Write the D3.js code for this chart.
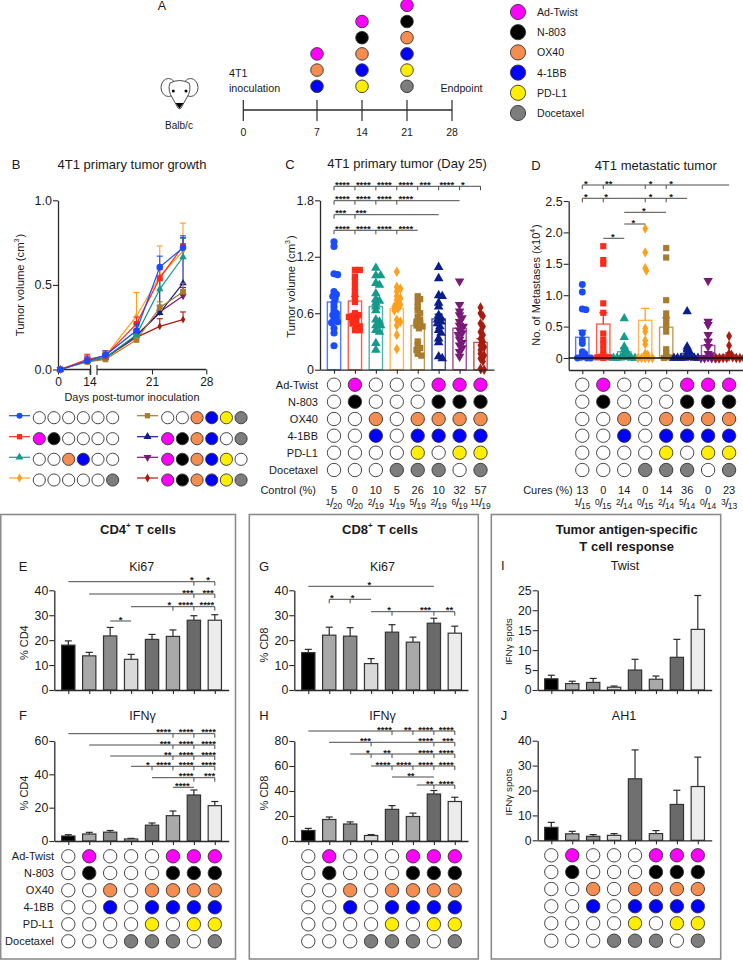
<!DOCTYPE html>
<html><head><meta charset="utf-8">
<script src="https://cdnjs.cloudflare.com/ajax/libs/d3/7.8.5/d3.min.js"></script>
<style>html,body{margin:0;padding:0;background:#fff}svg{display:block}text{font-family:"Liberation Sans",Arial,sans-serif;fill:#1a1a1a}</style>
</head><body><div id="c"></div>
<script>
// ---------- data ----------
const treatments=["Ad-Twist","N-803","OX40","4-1BB","PD-L1","Docetaxel"];
const treatmentColors=["#ff00ff","#000000","#f58c50","#0000ff","#ffee00","#7d7d7d"];
const matrix=[[0,1,0,0,0,1,1,1],[0,1,0,0,0,1,1,1],[0,0,1,0,1,1,1,1],[0,0,1,0,1,1,1,1],[0,0,0,0,1,0,1,1],[0,0,0,1,1,1,0,1]];
const groupColors=["#1a4cff","#ff2a18","#159a8c","#ffa01e","#a87c2c","#0c1e8c","#7a1a78","#a81c10"];
const groupShapes=["circle","square","triangle","diamond","square","triangle","triangleDown","diamond"];
const barFills=["#000000","#a9a9a9","#8c8c8c","#d9d9d9","#707070","#a9a9a9","#6a6a6a","#ececec"];
const scheduleDays=[0,7,14,21,28];
const scheduleDoses={7:[3,2,0],14:[4,3,2,1,0],21:[5,4,3,2,1,0]};

const growthDays=[1,13,15,19,22,25];
const growthMean=[[0,.05,.085,.23,.605,.72],[0,.06,.08,.27,.54,.73],[0,.05,.07,.205,.475,.665],[0,.05,.08,.315,.55,.70],[0,.045,.06,.175,.365,.46],[0,.05,.07,.2,.335,.51],[0,.05,.07,.2,.34,.435],[0,.05,.07,.19,.255,.295]];
const growthErr=[[0,.03,.025,.04,.065,.07],[0,.03,.03,.04,.05,.05],[0,.02,.02,.03,.05,.11],[0,.02,.03,.14,.18,.165],[0,.015,.04,.03,.035,.05],[0,.02,.02,.025,.2,.27],[0,.02,.02,.025,.04,.05],[0,.02,.02,.02,.045,.045]];

const primaryMean=[.72,.73,.67,.65,.47,.54,.44,.29];
const primaryErr=[.06,.05,.05,.05,.04,.05,.05,.04];
const primaryDots=[
[1.36,1.31,1.02,1.01,.83,.80,.78,.75,.71,.67,.63,.6,.58,.56,.53,.51,.50,.44,.39,.255],
[1.06,1.06,.99,.94,.88,.83,.78,.72,.60,.58,.57,.56,.55,.53,.51,.49,.47,.46,.42,.42],
[1.08,1.0,1.0,.92,.90,.81,.75,.73,.71,.67,.63,.53,.51,.47,.47,.42,.40,.28,.21],
[1.04,.88,.86,.83,.78,.76,.74,.70,.69,.67,.65,.63,.53,.51,.47,.37,.22],
[.78,.75,.72,.67,.63,.60,.56,.53,.51,.49,.47,.46,.44,.30,.26,.23,.21,.17,.15],
[1.09,.97,.79,.78,.71,.67,.58,.55,.53,.51,.49,.46,.42,.39,.33,.29,.14,.12],
[.94,.69,.62,.58,.55,.51,.47,.46,.42,.39,.37,.32,.29,.26,.23,.19,.14],
[.66,.60,.57,.49,.46,.40,.37,.33,.30,.26,.24,.21,.17,.15,.12,.09,.01,0]];
const controlPct=[5,0,10,5,26,10,32,57];
const controlFrac=[[1,20],[0,20],[2,19],[1,19],[5,19],[2,19],[6,19],[11,19]];

const metMean=[.33,.54,.10,.60,.49,.07,.20,.05];
const metErr=[.11,.18,.06,.19,.15,.05,.10,.03];
const metDots=[
[1.17,1.05,.78,.77,.40,.29,.23,.1,.07,.05,.02,.01,0,0,0],
[1.78,1.56,1.50,.87,.72,.39,.29,.21,.13,.05,.02,.02,.01,.01,0],
[.63,.33,.18,.13,.1,.07,.05,.02,.01,.005,0,0,0,0],
[2.06,1.68,1.43,1.39,.47,.42,.28,.22,.07,.05,0,0,0,0,0],
[1.75,1.60,.92,.71,.63,.56,.51,.42,.14,.09,.03,.01,0,0],
[.74,.18,.13,.1,.07,.05,.02,.01,0,0,0,0,0,0],
[1.23,.58,.53,.37,.26,.18,.07,.05,.01,0,0,0,0,0],
[.35,.20,.07,.05,.02,.01,0,0,0,0,0,0,0]];
const curesPct=[13,0,14,0,14,36,0,23];
const curesFrac=[[1,15],[0,15],[2,14],[0,15],[2,14],[5,14],[0,14],[3,13]];

const ki67Cd4=[18,13.7,21.7,12.3,20.3,21.5,28,28];
const ki67Cd4Err=[1.7,1.4,3.4,2,2,2.6,1.8,2.2];
const ifnCd4=[3,4.2,5.3,1.2,9.5,15.2,27.6,21.2];
const ifnCd4Err=[.8,1,1,.4,1.3,2.8,3,2.5];
const ki67Cd8=[15,22,21.6,10.6,23.2,19.2,26.8,22.8];
const ki67Cd8Err=[1.3,3.2,3.4,2,3,2,2,2.8];
const ifnCd8=[8.4,17.2,13.6,4.4,25.3,19.6,37.6,31.6];
const ifnCd8Err=[1.7,2,1.7,.7,3,2.7,2.8,3.4];
const twistSpots=[2.8,1.6,1.9,.7,5,2.7,8.2,15.2];
const twistErr=[.9,.6,1,.3,2.7,.8,4.5,8.5];
const ah1Spots=[5.2,2.6,1.6,2,24.7,2.7,14.4,21.6];
const ah1Err=[2,1,.7,.7,11.6,1.2,5.7,11.8];

// significance brackets: from/to group index, tick groups, [star position, stars]
const s4="****",s3="***",s2="**",s1="*";
const bracketsC=[
 [0,7,[0,1,2,3,4,5,6,7],[[.4,s4],[1.4,s4],[2.41,s4],[3.43,s4],[4.35,s3],[5.39,s4],[6.16,s1]]],
 [0,6,[0,1,2,3],[[.4,s4],[1.4,s4],[2.41,s4],[3.43,s4]]],
 [0,5,[0,1],[[.32,s3],[1.29,s3]]],
 [0,4,[0,1,2,3],[[.4,s4],[1.4,s4],[2.41,s4],[3.43,s4]]]];
const bracketsD=[
 [0,7,[0,1,3,4],[[.17,s1],[1.26,s2],[3.26,s1],[4.23,s1]]],
 [0,5,[0,1,3,4],[[.17,s1],[1.13,s1],[3.26,s1],[4.23,s1]]],
 [2,4,[],[[2.93,s1]]],
 [2,3,[],[[2.43,s1]]],
 [1,2,[],[[1.46,s1]]]];
const bracketsE=[
 [0,7,[6,7],[[5.9,s1],[6.68,s1]]],
 [1,7,[6,7],[[5.71,s3],[6.68,s3]]],
 [3,7,[5,6,7],[[4.83,s1],[5.61,s4],[6.62,s4]]],
 [2,3,[],[[2.5,s1]]]];
const bracketsF=[
 [0,7,[5,6,7],[[4.55,s4],[5.63,s4],[6.7,s4]]],
 [1,7,[5,6,7],[[4.63,s3],[5.63,s4],[6.7,s4]]],
 [2,7,[5,6,7],[[4.75,s2],[5.63,s4],[6.7,s4]]],
 [3,7,[4,5,6,7],[[3.8,s1],[4.55,s4],[5.63,s4],[6.7,s4]]],
 [4,7,[6,7],[[5.63,s4],[6.75,s3]]],
 [5,6,[],[[5.45,s4]]]];
const bracketsG=[
 [0,6,[],[[2.92,s1]]],
 [1,3,[1,2],[[1.13,s1],[2.12,s1]]],
 [3,7,[4,6,7],[[3.86,s1],[5.6,s3],[6.75,s2]]]];
const bracketsH=[
 [0,7,[4,5,6,7],[[3.64,s4],[4.75,s2],[5.61,s4],[6.59,s4]]],
 [1,7,[3,6,7],[[2.73,s3],[5.61,s4],[6.67,s3]]],
 [2,7,[3,4,6,7],[[2.85,s1],[3.76,s2],[5.61,s4],[6.59,s4]]],
 [3,7,[4,5,6,7],[[3.57,s4],[4.56,s4],[5.61,s4],[6.59,s4]]],
 [4,6,[],[[4.9,s2]]],
 [5.18,7,[6,7],[[5.8,s2],[6.59,s4]]]];

// ---------- helpers ----------
const svg=d3.select("#c").append("svg").attr("width",743).attr("height",960).attr("viewBox","0 0 743 960");
const DARK="#2a2a2a";
function txt(x,y,s,o={}){return svg.append("text").attr("x",x).attr("y",y).text(s)
 .attr("font-size",o.size||12).attr("text-anchor",o.anchor||"middle").attr("font-weight",o.weight||null).attr("dominant-baseline","central");}
function vtxt(x,y,parts,size){const t=svg.append("text").attr("transform",`translate(${x},${y}) rotate(-90)`).attr("text-anchor","middle").attr("dominant-baseline","central").attr("font-size",size);
 rich(t,parts,size);return t;}
function rich(t,parts,size){parts.forEach(p=>{if(typeof p==="string"){t.append("tspan").text(p);}
 else{t.append("tspan").attr("dy",-size*.35).attr("font-size",size*.62).text(p.sup);t.append("tspan").attr("dy",size*.35).text("\u200a");}});}
function richH(x,y,parts,size,weight){const t=svg.append("text").attr("x",x).attr("y",y).attr("text-anchor","middle").attr("dominant-baseline","central").attr("font-size",size).attr("font-weight",weight||null);rich(t,parts,size);}
function dot(x,y,on,color,r){svg.append("circle").attr("cx",x).attr("cy",y).attr("r",r)
 .attr("fill",on?color:"#fff").attr("stroke","#333").attr("stroke-width",.9);}
function bandScale(c0,step,axL,axR){return d3.scaleLinear().domain([(axL-c0)/step,(axR-c0)/step]).range([axL,axR]);}
function marker(sel,shape,x,y,size,color){
 const sym={circle:d3.symbolCircle,square:d3.symbolSquare,triangle:d3.symbolTriangle,diamond:d3.symbolDiamond};
 const p=sel.append("path").attr("fill",color);
 if(shape==="triangleDown")p.attr("d",d3.symbol(d3.symbolTriangle,size)()).attr("transform",`translate(${x},${y}) rotate(180)`);
 else p.attr("d",d3.symbol(sym[shape],shape==="diamond"?size*.8:size)()).attr("transform",`translate(${x},${y})`);
}
function styleAxis(g,w){g.selectAll(".domain").attr("stroke",DARK).attr("stroke-width",w||1.3);
 g.selectAll(".tick line").attr("stroke",DARK).attr("stroke-width",1.1);
 g.selectAll("text").attr("font-family",'"Liberation Sans",Arial,sans-serif').attr("fill","#1a1a1a");}
function yAxis(y,xp,ticks,fmt,size){const g=svg.append("g").attr("transform",`translate(${xp},0)`)
 .call(d3.axisLeft(y).tickValues(ticks).tickFormat(fmt||(d=>d)).tickSize(5).tickSizeOuter(0).tickPadding(1));
 styleAxis(g);g.selectAll("text").attr("font-size",size||12.5);return g;}
function xAxis(x,yp){const g=svg.append("g").attr("transform",`translate(0,${yp})`)
 .call(d3.axisBottom(x).tickValues(d3.range(8)).tickFormat("").tickSize(4).tickSizeOuter(0));styleAxis(g);return g;}
function brackets(x,list,rowYs,color){list.forEach((b,i)=>{const yy=rowYs[i];const c=color||"#4a4a4a";
 svg.append("line").attr("x1",x(b[0])).attr("x2",x(b[1])).attr("y1",yy).attr("y2",yy).attr("stroke",c).attr("stroke-width",1);
 b[2].forEach(t=>svg.append("line").attr("x1",x(t)).attr("x2",x(t)).attr("y1",yy).attr("y2",yy+4).attr("stroke",c).attr("stroke-width",1));
 b[3].forEach(s=>svg.append("text").attr("x",x(s[0])).attr("y",yy+1.5).attr("text-anchor","middle").attr("font-size",9.5).attr("font-weight","bold").attr("fill","#333").text(s[1]));
});}
function grayBars(x,y,vals,errs){const w=13.3;
 vals.forEach((v,i)=>{const cx=x(i);
  svg.append("line").attr("x1",cx).attr("x2",cx).attr("y1",y(v)).attr("y2",y(v+errs[i])).attr("stroke",DARK).attr("stroke-width",1.2);
  svg.append("line").attr("x1",cx-3.5).attr("x2",cx+3.5).attr("y1",y(v+errs[i])).attr("y2",y(v+errs[i])).attr("stroke",DARK).attr("stroke-width",1.2);
  svg.append("rect").attr("x",cx-w/2).attr("width",w).attr("y",y(v)).attr("height",y(0)-y(v)).attr("fill",barFills[i]).attr("stroke","#333").attr("stroke-width",1.2);
 });}
function matrixDots(x,rowYs,r){matrix.forEach((row,ri)=>row.forEach((on,ci)=>dot(x(ci),rowYs[ri],on,treatmentColors[ri],r)));}
function rowLabels(xr,rowYs,size){treatments.forEach((t,i)=>txt(xr,rowYs[i],t,{size:size,anchor:"end"}));}
function swarm(vals,y,x0,minD){const placed=[];return vals.map(v=>{const py=y(v);let off=0,k=0;
 const ok=o=>placed.every(p=>Math.hypot(p[0]-o,p[1]-py)>=minD);
 while(!ok(off)){k++;off=(k%2?1:-1)*Math.ceil(k/2)*1.2;}
 placed.push([off,py]);return [x0+off,py];});}
function dotBars(x,y,mean,err,dots,minD,sz){mean.forEach((m,i)=>{const cx=x(i),c=groupColors[i],w=13.3;
 svg.append("rect").attr("x",cx-w/2).attr("width",w).attr("y",y(m)).attr("height",y(0)-y(m)).attr("fill","#fff").attr("fill-opacity",.3).attr("stroke",c).attr("stroke-opacity",.75).attr("stroke-width",1.4);
 swarm(dots[i],y,cx,minD).forEach(p=>marker(svg,groupShapes[i],p[0],p[1],sz,c));
 svg.append("line").attr("x1",cx).attr("x2",cx).attr("y1",y(m)).attr("y2",y(m+err[i])).attr("stroke",c).attr("stroke-width",1.3);
 svg.append("line").attr("x1",cx-4).attr("x2",cx+4).attr("y1",y(m+err[i])).attr("y2",y(m+err[i])).attr("stroke",c).attr("stroke-width",1.3);
});}
function fractions(x,yp,list){list.forEach((f,i)=>{const t=svg.append("text").attr("x",x(i)).attr("y",yp).attr("text-anchor","middle").attr("font-size",8.5);
 t.append("tspan").attr("dy",-1.5).text(f[0]);
 t.append("tspan").attr("dy",2.5).attr("dx",-.5).attr("font-size",13).attr("font-weight","200").text("/");
 t.append("tspan").attr("dy",1.5).attr("dx",-1).text(f[1]);});}

// ---------- panel A ----------
txt(162,6,"A",{size:12.5});
const xSched=d3.scaleLinear().domain(scheduleDays).range([243.3,317,362,407,452]);
svg.append("line").attr("x1",xSched(0)).attr("x2",xSched(28)).attr("y1",110).attr("y2",110).attr("stroke",DARK).attr("stroke-width",1.5);
scheduleDays.forEach(d=>{const X=xSched(d);
 svg.append("line").attr("x1",X).attr("x2",X).attr("y1",100).attr("y2",121).attr("stroke",DARK).attr("stroke-width",1.2);
 txt(X,132,d,{size:10.5});
 (scheduleDoses[d]||[]).forEach((t,k)=>dot(X,86.3-k*16.2,true,treatmentColors[t],6.3));
});
treatments.forEach((t,i)=>{const cy=12+i*20.2;dot(518,cy,true,treatmentColors[i],7.6);txt(537,cy,t,{size:10.6,anchor:"start"});});
txt(229,73,"4T1",{size:10.7,anchor:"start"});txt(229,88,"inoculation",{size:10.7,anchor:"start"});
txt(461.5,88,"Endpoint",{size:10.7});txt(179,125,"Balb/c",{size:10});
// mouse icon
const mouse=svg.append("g").attr("fill","#fff").attr("stroke","#222").attr("stroke-width",.8);
mouse.append("ellipse").attr("cx",168.5).attr("cy",87.5).attr("rx",7.5).attr("ry",9);
mouse.append("ellipse").attr("cx",190.5).attr("cy",87.5).attr("rx",7.5).attr("ry",9);
mouse.append("path").attr("d","M170,83 Q179.5,78 189,83 Q192,90 186,99 L181,108 Q179.5,109.5 178,108 L173,99 Q167,90 170,83Z");
svg.append("circle").attr("cx",173.3).attr("cy",91).attr("r",1.5).attr("fill","#000");
svg.append("circle").attr("cx",186).attr("cy",91).attr("r",1.5).attr("fill","#000");
svg.append("path").attr("d","M175.5,103 L183.5,103 L179.5,108.5Z").attr("fill","#000");

// ---------- panel B ----------
txt(16,164,"B",{size:13});txt(132,164,"4T1 primary tumor growth",{size:13});
const xB=d3.scaleLinear().domain([0,14,14.001,28]).range([58,89.5,97.7,206.3]);
const yB=d3.scaleLinear().domain([0,1]).range([369.5,200.3]);
yAxis(yB,58,[0,.5,1],d3.format(".1f"));
const gxB=svg.append("g").attr("transform","translate(0,369.5)").call(d3.axisBottom(xB).tickValues([0,14,21,28]).tickSize(5).tickSizeOuter(0));
styleAxis(gxB);gxB.select(".domain").remove();gxB.selectAll("text").attr("font-size",12);
[[58,90.7],[97,206.3]].forEach(s=>svg.append("line").attr("x1",s[0]).attr("x2",s[1]).attr("y1",369.5).attr("y2",369.5).attr("stroke",DARK).attr("stroke-width",1.3));
[90.7,97].forEach(X=>svg.append("line").attr("x1",X).attr("x2",X).attr("y1",365).attr("y2",375).attr("stroke",DARK).attr("stroke-width",1.1));
txt(132,397,"Days post-tumor inoculation",{size:10.9});
vtxt(20,285,["Tumor volume (cm",{sup:"3"},")"],11.3);
const lineB=d3.line().x((d,i)=>xB(growthDays[i])).y(d=>yB(d));
d3.range(7,-1,-1).forEach(g=>{const c=groupColors[g];
 growthMean[g].forEach((m,i)=>{if(growthErr[g][i]>0){const X=xB(growthDays[i]),Y=yB(m+growthErr[g][i]);
  svg.append("line").attr("x1",X).attr("x2",X).attr("y1",yB(m)).attr("y2",Y).attr("stroke",c).attr("stroke-width",1.1);
  svg.append("line").attr("x1",X-3).attr("x2",X+3).attr("y1",Y).attr("y2",Y).attr("stroke",c).attr("stroke-width",1.1);}});
 svg.append("path").attr("d",lineB(growthMean[g])).attr("fill","none").attr("stroke",c).attr("stroke-width",1.2);
 const sz=g===0||g===1||g===4?34:g===3||g===7?22:24;
 growthMean[g].forEach((m,i)=>marker(svg,groupShapes[g],xB(growthDays[i]),yB(m),sz,c));
});
// legend of B
const legRows=[417.7,438.7,459.3,480];
const legX=[[9,30,39.3],[137,158,167.7]];
d3.range(8).forEach(g=>{const col=g<4?0:1,row=g%4,L=legX[col],yy=legRows[row];
 svg.append("line").attr("x1",L[0]).attr("x2",L[1]).attr("y1",yy-2).attr("y2",yy-2).attr("stroke",groupColors[g]).attr("stroke-width",1.2);
 marker(svg,groupShapes[g],(L[0]+L[1])/2,yy-2,28,groupColors[g]);
 treatments.forEach((t,ti)=>dot(L[2]+ti*14.67,yy,matrix[ti][g],treatmentColors[ti],6.1));
});

// ---------- panel C ----------
txt(290,164,"C",{size:13});txt(407,163.5,"4T1 primary tumor (Day 25)",{size:13});
const xC=bandScale(334,20.93,320,494);
const yC=d3.scaleLinear().domain([0,1.8]).range([369.7,200.3]);
dotBars(xC,yC,primaryMean,primaryErr,primaryDots,3.6,40);
yAxis(yC,320,[0,.6,1.2,1.8],d=>d===0?"0":d3.format(".1f")(d));
xAxis(xC,369.7);
vtxt(290.5,286.5,["Tumor volume (cm",{sup:"3"},")"],11.3);
brackets(xC,bracketsC,[186.3,200.7,214.7,230.3]);
const rowsC=[384.7,401.7,419,435.7,452.7,470];
matrixDots(xC,rowsC,6.7);rowLabels(318,rowsC,11);
txt(316,489.5,"Control (%)",{size:11,anchor:"end"});
controlPct.forEach((v,i)=>txt(xC(i),489.5,v,{size:11}));
fractions(xC,506,controlFrac);

// ---------- panel D ----------
txt(536,165,"D",{size:13});txt(655.7,165,"4T1 metastatic tumor",{size:13});
const xD=bandScale(582.3,20.97,568.7,743);
const yD=d3.scaleLinear().domain([0,2.5]).range([358,201]);
const yDaxis=yD.copy().domain([-.191,2.5]).range([370,201]);
dotBars(xD,yD,metMean,metErr,metDots,2.6,38);
yAxis(yDaxis,568.7,[0,.5,1,1.5,2,2.5],d=>d===0?"0":d3.format(".1f")(d));
xAxis(xD,370);
svg.append("line").attr("x1",568.7).attr("x2",743).attr("y1",yD(0)).attr("y2",yD(0)).attr("stroke","#111").attr("stroke-width",1.3);
vtxt(536,285,["No. of Metastases (x10",{sup:"4"},")"],11);
brackets(xD,bracketsD,[185,198.3,212.3,224,238.3]);
matrixDots(xD,rowsC,6.7);
txt(572.7,489.5,"Cures (%)",{size:11,anchor:"end"});
curesPct.forEach((v,i)=>txt(xD(i),489.5,v,{size:11}));
fractions(xD,506,curesFrac);

// ---------- boxes ----------
[[0.7,235.5],[249.3,478.3],[491.3,720.7]].forEach(b=>svg.append("rect").attr("x",b[0]).attr("y",514.5).attr("width",b[1]-b[0]).attr("height",444.5).attr("fill","none").attr("stroke","#8c8c8c").attr("stroke-width",1.6));
richH(138,529.3,["CD4",{sup:"+"}," T cells"],13,"bold");
richH(380,529.3,["CD8",{sup:"+"}," T cells"],13,"bold");
txt(626.7,529.3,"Tumor antigen-specific",{size:13,weight:"bold"});
txt(626.7,546,"T cell response",{size:13,weight:"bold"});

function lowerPanel(o){
 const x=bandScale(o.c0,20.93,o.axL,o.axR);
 const y=d3.scaleLinear().domain([0,o.max]).range([o.yb,o.yt]);
 grayBars(x,y,o.vals,o.errs);
 yAxis(y,o.axL,o.ticks,null,12.3);
 xAxis(x,o.yb);
 txt(o.lx,o.ly,o.letter,{size:13,anchor:"middle"});
 txt(o.tx,o.ly,o.title,{size:12.5});
 if(o.br)brackets(x,o.br,o.brY,o.brColor);
 return x;
}
const rowsF=[856.3,873,890.3,907.3,924.3,941.3];
lowerPanel({c0:68.3,axL:54.3,axR:228.7,yb:690,yt:590.3,max:40,ticks:[0,10,20,30,40],vals:ki67Cd4,errs:ki67Cd4Err,letter:"E",lx:23,ly:566.5,tx:141.7,title:"Ki67",br:bracketsE,brY:[581.7,594,606.7,621]});
vtxt(24,642.7,["% CD4"],11);
const xF=lowerPanel({c0:68.3,axL:54.3,axR:228.7,yb:841,yt:741,max:60,ticks:[0,20,40,60],vals:ifnCd4,errs:ifnCd4Err,letter:"F",lx:23,ly:715.5,tx:142.5,title:"IFN\u03b3",br:bracketsF,brY:[733.7,745,756,766.3,777.7,787.3]});
vtxt(24,793,["% CD4"],11);
matrixDots(xF,rowsF,6.7);rowLabels(54,rowsF,11);

lowerPanel({c0:308.3,axL:294.3,axR:468,yb:690,yt:590.3,max:40,ticks:[0,10,20,30,40],vals:ki67Cd8,errs:ki67Cd8Err,letter:"G",lx:264,ly:566.5,tx:382.5,title:"Ki67",br:bracketsG,brY:[586.3,599.3,611.7]});
vtxt(264,645,["% CD8"],11);
const xH=lowerPanel({c0:308.3,axL:294.3,axR:468,yb:841,yt:741,max:80,ticks:[0,20,40,60,80],vals:ifnCd8,errs:ifnCd8Err,letter:"H",lx:264,ly:715.5,tx:382.5,title:"IFN\u03b3",br:bracketsH,brY:[731,742.3,754,766,777,785]});
vtxt(264,793,["% CD8"],11);
matrixDots(xH,rowsF,6.7);

lowerPanel({c0:551.3,axL:537.7,axR:711.7,yb:690,yt:590.3,max:25,ticks:[0,5,10,15,20,25],vals:twistSpots,errs:twistErr,letter:"I",lx:502.7,ly:565.5,tx:625,title:"Twist"});
vtxt(508,641.7,["IFN\u03b3 spots"],9.8);
const xJ=lowerPanel({c0:551.3,axL:537.7,axR:711.7,yb:840.3,yt:740.7,max:40,ticks:[0,10,20,30,40],vals:ah1Spots,errs:ah1Err,letter:"J",lx:504,ly:715.5,tx:624,title:"AH1"});
vtxt(508,792,["IFN\u03b3 spots"],9.8);
matrixDots(xJ,[855.3,872,889,906.3,923.3,940.7],6.7);
</script></body></html>
